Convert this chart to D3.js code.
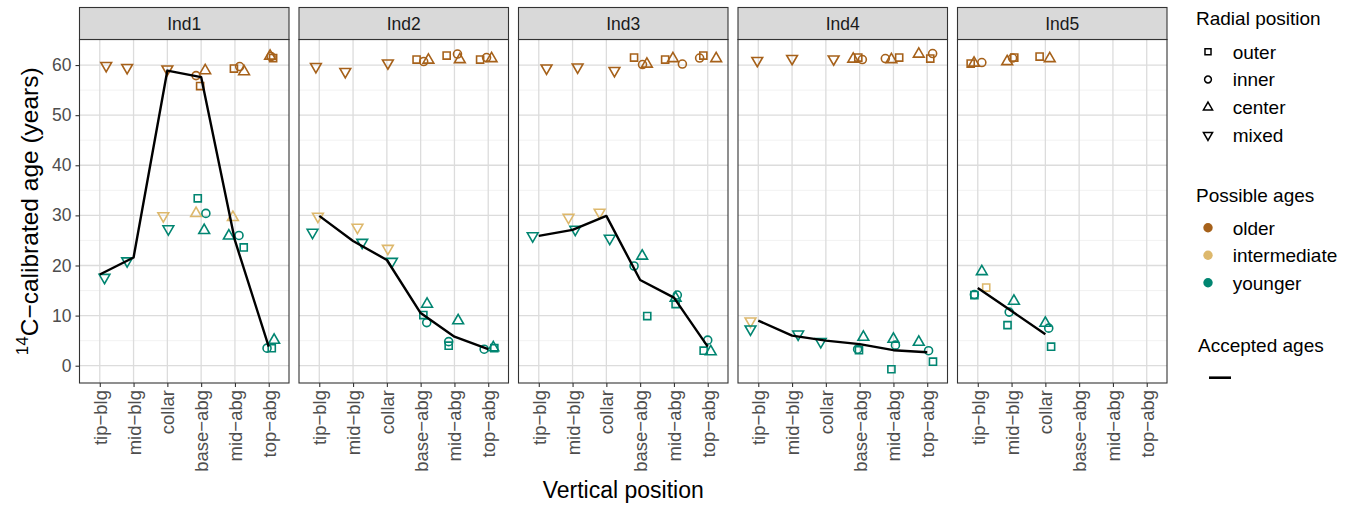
<!DOCTYPE html>
<html>
<head>
<meta charset="utf-8">
<script src="https://cdn.jsdelivr.net/npm/d3@7"></script>
<style>
  body { margin: 0; background: #fff; }
  text { font-family: "Liberation Sans", Arial, sans-serif; }
</style>
</head>
<body>
<div id="chart"></div>
<script>
// data

var individuals = ["Ind1", "Ind2", "Ind3", "Ind4", "Ind5"];
var positions = ["tip-blg", "mid-blg", "collar", "base-abg", "mid-abg", "top-abg"];
var radialTypes = ["outer", "inner", "center", "mixed"];
var ageGroups = ["older", "intermediate", "younger"];
var yTicks = [0, 10, 20, 30, 40, 50, 60];

// accepted ages per individual, one value per vertical position
var acceptedAges = [
  [18.2, 21.6, 58.9, 57.6, 25.0, 3.8],
  [29.9, 24.9, 21.1, 10.5, 5.8, 3.3],
  [25.9, 27.1, 29.9, 17.1, 13.6, 3.8],
  [9.0, 6.0, 5.0, 4.3, 3.1, 2.7],
  [15.5, 10.9, 6.3, null, null, null]
];

// [vertical position, radial position, possible age, age, jitter (in category units)]
var samplesInd1 = [
  ["tip-blg", "mixed", "older", 59.9, 0.19],
  ["tip-blg", "mixed", "younger", 17.6, 0.14],
  ["mid-blg", "mixed", "older", 59.5, -0.19],
  ["mid-blg", "mixed", "younger", 20.9, -0.19],
  ["collar", "mixed", "older", 59.2, 0.0],
  ["collar", "mixed", "intermediate", 29.9, -0.12],
  ["collar", "mixed", "younger", 27.3, 0.03],
  ["base-abg", "inner", "older", 57.9, -0.15],
  ["base-abg", "center", "older", 58.9, 0.12],
  ["base-abg", "outer", "older", 55.8, -0.03],
  ["base-abg", "outer", "younger", 33.4, -0.1],
  ["base-abg", "center", "intermediate", 30.4, -0.15],
  ["base-abg", "inner", "younger", 30.4, 0.14],
  ["base-abg", "center", "younger", 27.0, 0.09],
  ["mid-abg", "outer", "older", 59.3, -0.03],
  ["mid-abg", "inner", "older", 59.7, 0.14],
  ["mid-abg", "center", "older", 58.7, 0.27],
  ["mid-abg", "center", "intermediate", 29.6, -0.06],
  ["mid-abg", "center", "younger", 25.9, -0.18],
  ["mid-abg", "inner", "younger", 26.0, 0.12],
  ["mid-abg", "outer", "younger", 23.6, 0.26],
  ["top-abg", "center", "older", 61.8, 0.04],
  ["top-abg", "outer", "older", 61.4, 0.13],
  ["top-abg", "inner", "older", 61.7, 0.07],
  ["top-abg", "inner", "younger", 3.5, -0.05],
  ["top-abg", "outer", "younger", 3.5, 0.09],
  ["top-abg", "center", "younger", 5.1, 0.16]
];

var samplesInd2 = [
  ["tip-blg", "mixed", "older", 59.7, -0.1],
  ["tip-blg", "mixed", "intermediate", 29.8, -0.04],
  ["tip-blg", "mixed", "younger", 26.6, -0.2],
  ["mid-blg", "mixed", "older", 58.7, -0.23],
  ["mid-blg", "mixed", "intermediate", 27.6, 0.13],
  ["mid-blg", "mixed", "younger", 24.6, 0.27],
  ["collar", "mixed", "older", 60.4, 0.03],
  ["collar", "mixed", "intermediate", 23.4, 0.03],
  ["collar", "mixed", "younger", 20.8, 0.15],
  ["base-abg", "outer", "older", 61.1, -0.12],
  ["base-abg", "inner", "older", 60.7, 0.09],
  ["base-abg", "center", "older", 61.0, 0.23],
  ["base-abg", "center", "younger", 12.3, 0.19],
  ["base-abg", "outer", "younger", 10.1, 0.08],
  ["base-abg", "inner", "younger", 8.6, 0.18],
  ["mid-abg", "outer", "older", 61.9, -0.23],
  ["mid-abg", "inner", "older", 62.2, 0.09],
  ["mid-abg", "center", "older", 61.1, 0.16],
  ["mid-abg", "center", "younger", 9.0, 0.11],
  ["mid-abg", "inner", "younger", 4.8, -0.17],
  ["mid-abg", "outer", "younger", 4.0, -0.17],
  ["top-abg", "outer", "older", 61.1, -0.24],
  ["top-abg", "inner", "older", 61.5, -0.05],
  ["top-abg", "center", "older", 61.3, 0.1],
  ["top-abg", "inner", "younger", 3.3, -0.12],
  ["top-abg", "outer", "younger", 3.5, 0.18],
  ["top-abg", "center", "younger", 3.6, 0.15]
];

var samplesInd3 = [
  ["tip-blg", "mixed", "older", 59.4, 0.23],
  ["tip-blg", "mixed", "younger", 25.9, -0.18],
  ["mid-blg", "mixed", "older", 59.6, 0.15],
  ["mid-blg", "mixed", "intermediate", 29.6, -0.12],
  ["mid-blg", "mixed", "younger", 27.2, 0.08],
  ["collar", "mixed", "older", 58.9, 0.24],
  ["collar", "mixed", "intermediate", 30.6, -0.2],
  ["collar", "mixed", "younger", 25.4, 0.1],
  ["base-abg", "outer", "older", 61.5, -0.18],
  ["base-abg", "inner", "older", 60.1, 0.07],
  ["base-abg", "center", "older", 60.2, 0.2],
  ["base-abg", "center", "younger", 21.9, 0.06],
  ["base-abg", "inner", "younger", 19.9, -0.18],
  ["base-abg", "outer", "younger", 9.9, 0.21],
  ["mid-abg", "outer", "older", 61.1, -0.26],
  ["mid-abg", "center", "older", 61.3, -0.03],
  ["mid-abg", "inner", "older", 60.2, 0.25],
  ["mid-abg", "inner", "younger", 14.1, 0.1],
  ["mid-abg", "center", "younger", 13.5, 0.05],
  ["mid-abg", "outer", "younger", 12.3, 0.05],
  ["top-abg", "inner", "older", 61.4, -0.24],
  ["top-abg", "outer", "older", 61.9, -0.13],
  ["top-abg", "center", "older", 61.3, 0.25],
  ["top-abg", "inner", "younger", 5.1, 0.0],
  ["top-abg", "outer", "younger", 3.0, -0.12],
  ["top-abg", "center", "younger", 2.8, 0.09]
];

var samplesInd4 = [
  ["tip-blg", "mixed", "older", 60.9, -0.03],
  ["tip-blg", "mixed", "intermediate", 8.9, -0.23],
  ["tip-blg", "mixed", "younger", 7.3, -0.23],
  ["mid-blg", "mixed", "older", 61.3, 0.0],
  ["mid-blg", "mixed", "younger", 6.3, 0.18],
  ["collar", "mixed", "older", 61.2, 0.23],
  ["collar", "mixed", "younger", 4.8, -0.15],
  ["base-abg", "center", "older", 61.2, -0.19],
  ["base-abg", "outer", "older", 61.5, -0.04],
  ["base-abg", "inner", "older", 61.1, 0.08],
  ["base-abg", "center", "younger", 5.7, 0.11],
  ["base-abg", "inner", "younger", 3.3, -0.06],
  ["base-abg", "outer", "younger", 3.1, -0.02],
  ["mid-abg", "inner", "older", 61.3, -0.24],
  ["mid-abg", "center", "older", 61.1, -0.06],
  ["mid-abg", "outer", "older", 61.5, 0.17],
  ["mid-abg", "center", "younger", 5.3, 0.0],
  ["mid-abg", "inner", "younger", 4.1, 0.06],
  ["mid-abg", "outer", "younger", -0.7, -0.06],
  ["top-abg", "center", "older", 62.2, -0.25],
  ["top-abg", "inner", "older", 62.3, 0.16],
  ["top-abg", "outer", "older", 61.3, 0.09],
  ["top-abg", "center", "younger", 4.7, -0.25],
  ["top-abg", "inner", "younger", 3.0, 0.04],
  ["top-abg", "outer", "younger", 0.8, 0.17]
];

var samplesInd5 = [
  ["tip-blg", "outer", "older", 60.3, -0.21],
  ["tip-blg", "center", "older", 60.4, -0.11],
  ["tip-blg", "inner", "older", 60.5, 0.12],
  ["tip-blg", "center", "younger", 18.8, 0.12],
  ["tip-blg", "outer", "intermediate", 15.6, 0.25],
  ["tip-blg", "outer", "younger", 14.1, -0.1],
  ["tip-blg", "inner", "younger", 14.2, -0.1],
  ["mid-blg", "center", "older", 60.7, -0.13],
  ["mid-blg", "inner", "older", 61.4, 0.03],
  ["mid-blg", "outer", "older", 61.5, 0.08],
  ["mid-blg", "center", "younger", 12.9, 0.07],
  ["mid-blg", "inner", "younger", 10.7, -0.07],
  ["mid-blg", "outer", "younger", 8.1, -0.12],
  ["collar", "outer", "older", 61.7, -0.17],
  ["collar", "center", "older", 61.3, 0.13],
  ["collar", "center", "younger", 8.5, 0.0],
  ["collar", "inner", "younger", 7.5, 0.1],
  ["collar", "outer", "younger", 3.8, 0.17]
];

var samples = [samplesInd1, samplesInd2, samplesInd3, samplesInd4, samplesInd5];

// set svg area and panel layout
var svgWidth = 1354;
var svgHeight = 506;

var panelLeft = 79.5;
var panelWidth = 209.5;
var panelStep = 219.5;
var stripTop = 7.5;
var plotTop = 39.5;
var plotBottom = 383;

var colors = d3.scaleOrdinal()
  .domain(ageGroups)
  .range(["#A6611A", "#DDB86C", "#018571"]);

var svg = d3.select("#chart")
  .append("svg")
  .attr("width", svgWidth)
  .attr("height", svgHeight);

var yScale = d3.scaleLinear()
  .domain([-3.45, 65.1])
  .range([plotBottom, plotTop]);

// category index -> x inside a panel (ggplot discrete expansion 0.6)
var xScale = d3.scaleLinear()
  .domain([-0.6, positions.length - 0.4])
  .range([0, panelWidth]);

// R style point shapes
function shapePath(type, R) {
  if (type === "outer") {
    var h = R * 0.886;
    return `M${-h},${-h}H${h}V${h}H${-h}Z`;
  }
  if (type === "inner") {
    return `M${-R},0A${R},${R} 0 1,0 ${R},0A${R},${R} 0 1,0 ${-R},0Z`;
  }
  var top = 1.555 * R, half = 1.347 * R, base = 0.778 * R;
  if (type === "center") {
    return `M0,${-top}L${half},${base}L${-half},${base}Z`;
  }
  return `M0,${top}L${half},${-base}L${-half},${-base}Z`;
}

individuals.forEach(function(ind, i) {
  var g = svg.append("g")
    .attr("transform", `translate(${panelLeft + i * panelStep}, 0)`);

  // panel background and grid
  g.append("rect")
    .attr("x", 0).attr("y", plotTop)
    .attr("width", panelWidth).attr("height", plotBottom - plotTop)
    .attr("fill", "#fff");

  var minor = d3.range(5, 60, 10);
  g.selectAll(".minor")
    .data(minor)
    .enter()
    .append("line")
    .attr("x1", 0).attr("x2", panelWidth)
    .attr("y1", d => yScale(d)).attr("y2", d => yScale(d))
    .attr("stroke", "#F0F0F0")
    .attr("stroke-width", 0.9);

  g.selectAll(".hmajor")
    .data(yTicks)
    .enter()
    .append("line")
    .attr("x1", 0).attr("x2", panelWidth)
    .attr("y1", d => yScale(d)).attr("y2", d => yScale(d))
    .attr("stroke", "#DCDCDC")
    .attr("stroke-width", 1.3);

  g.selectAll(".vmajor")
    .data(positions)
    .enter()
    .append("line")
    .attr("x1", (d, k) => xScale(k)).attr("x2", (d, k) => xScale(k))
    .attr("y1", plotTop).attr("y2", plotBottom)
    .attr("stroke", "#DCDCDC")
    .attr("stroke-width", 1.3);

  // points
  g.selectAll(".pt")
    .data(samples[i])
    .enter()
    .append("path")
    .attr("transform", d => `translate(${xScale(positions.indexOf(d[0]) + d[4])}, ${yScale(d[3])})`)
    .attr("d", d => shapePath(d[1], 4.0))
    .attr("fill", "none")
    .attr("stroke", d => colors(d[2]))
    .attr("stroke-width", 1.6);

  // accepted ages line
  var line = d3.line()
    .defined(d => d != null)
    .x((d, k) => xScale(k))
    .y(d => yScale(d));

  g.append("path")
    .datum(acceptedAges[i])
    .attr("d", line)
    .attr("fill", "none")
    .attr("stroke", "#000")
    .attr("stroke-width", 2.4)
    .attr("stroke-linejoin", "round");

  // border
  g.append("rect")
    .attr("x", 0).attr("y", plotTop)
    .attr("width", panelWidth).attr("height", plotBottom - plotTop)
    .attr("fill", "none")
    .attr("stroke", "#333")
    .attr("stroke-width", 1.1);

  // strip
  g.append("rect")
    .attr("x", 0).attr("y", stripTop)
    .attr("width", panelWidth).attr("height", plotTop - stripTop)
    .attr("fill", "#D9D9D9")
    .attr("stroke", "#333")
    .attr("stroke-width", 1.1);

  g.append("text")
    .attr("x", panelWidth / 2)
    .attr("y", (stripTop + plotTop) / 2)
    .attr("dy", "0.36em")
    .style("text-anchor", "middle")
    .style("font-size", "17.5px")
    .style("fill", "#1A1A1A")
    .text(ind);

  // x axis
  var bottomAxis = d3.axisBottom(xScale)
    .tickValues(d3.range(positions.length))
    .tickFormat(k => positions[k].replace("-", "\u2212"))
    .tickSize(4)
    .tickSizeOuter(0);

  var xg = g.append("g")
    .attr("transform", `translate(0, ${plotBottom})`)
    .call(bottomAxis);
  xg.select(".domain").remove();
  xg.selectAll(".tick line").attr("stroke", "#333").attr("stroke-width", 1.1);
  xg.selectAll(".tick text")
    .attr("transform", "rotate(-90)")
    .attr("x", -7)
    .attr("y", 0)
    .attr("dy", "0.35em")
    .style("text-anchor", "end")
    .style("font-size", "18.5px")
    .style("font-family", "'Liberation Sans', Arial, sans-serif")
    .style("fill", "#4D4D4D");

  // y axis on first panel only
  if (i === 0) {
    var leftAxis = d3.axisLeft(yScale)
      .tickValues(yTicks)
      .tickSize(4)
      .tickSizeOuter(0);
    var yg = g.append("g").call(leftAxis);
    yg.select(".domain").remove();
    yg.selectAll(".tick line").attr("stroke", "#333").attr("stroke-width", 1.1);
    yg.selectAll(".tick text")
      .attr("x", -8)
      .style("font-size", "17.5px")
      .style("font-family", "'Liberation Sans', Arial, sans-serif")
      .style("fill", "#4D4D4D");
  }
});

// axis titles
svg.append("text")
  .attr("x", panelLeft + (4 * panelStep + panelWidth) / 2)
  .attr("y", 498)
  .style("text-anchor", "middle")
  .style("font-size", "23px")
  .style("fill", "#000")
  .text("Vertical position");

var yTitle = svg.append("text")
  .attr("transform", `translate(35, ${(plotTop + plotBottom) / 2}) rotate(-90)`)
  .style("text-anchor", "middle")
  .style("font-size", "24.5px")
  .style("fill", "#000");
yTitle.append("tspan")
  .attr("dy", "-0.42em")
  .style("font-size", "17px")
  .text("14");
yTitle.append("tspan")
  .attr("dy", "0.42em")
  .text("C\u2212calibrated age (years)");

// legends
var legend = svg.append("g");

legend.append("text")
  .attr("x", 1196).attr("y", 18).attr("dy", "0.36em")
  .style("font-size", "19px")
  .text("Radial position");

var radialItems = legend.selectAll(".radial")
  .data(radialTypes)
  .enter()
  .append("g")
  .attr("transform", (d, k) => `translate(1208, ${51.7 + k * 27.8})`);
radialItems.append("path")
  .attr("d", d => shapePath(d, 3.4))
  .attr("fill", "none")
  .attr("stroke", "#000")
  .attr("stroke-width", 1.5);
radialItems.append("text")
  .attr("x", 24.7).attr("dy", "0.36em")
  .style("font-size", "19px")
  .text(d => d);

legend.append("text")
  .attr("x", 1196).attr("y", 194.7).attr("dy", "0.36em")
  .style("font-size", "19px")
  .text("Possible ages");

var ageItems = legend.selectAll(".ages")
  .data(ageGroups)
  .enter()
  .append("g")
  .attr("transform", (d, k) => `translate(1208, ${227.7 + k * 27.5})`);
ageItems.append("circle")
  .attr("r", 4.7)
  .attr("fill", d => colors(d));
ageItems.append("text")
  .attr("x", 24.7).attr("dy", "0.36em")
  .style("font-size", "19px")
  .text(d => d);

legend.append("text")
  .attr("x", 1198).attr("y", 345).attr("dy", "0.36em")
  .style("font-size", "19px")
  .text("Accepted ages");

legend.append("line")
  .attr("x1", 1209).attr("x2", 1231)
  .attr("y1", 377.7).attr("y2", 377.7)
  .attr("stroke", "#000")
  .attr("stroke-width", 2.6);
</script>
</body>
</html>
